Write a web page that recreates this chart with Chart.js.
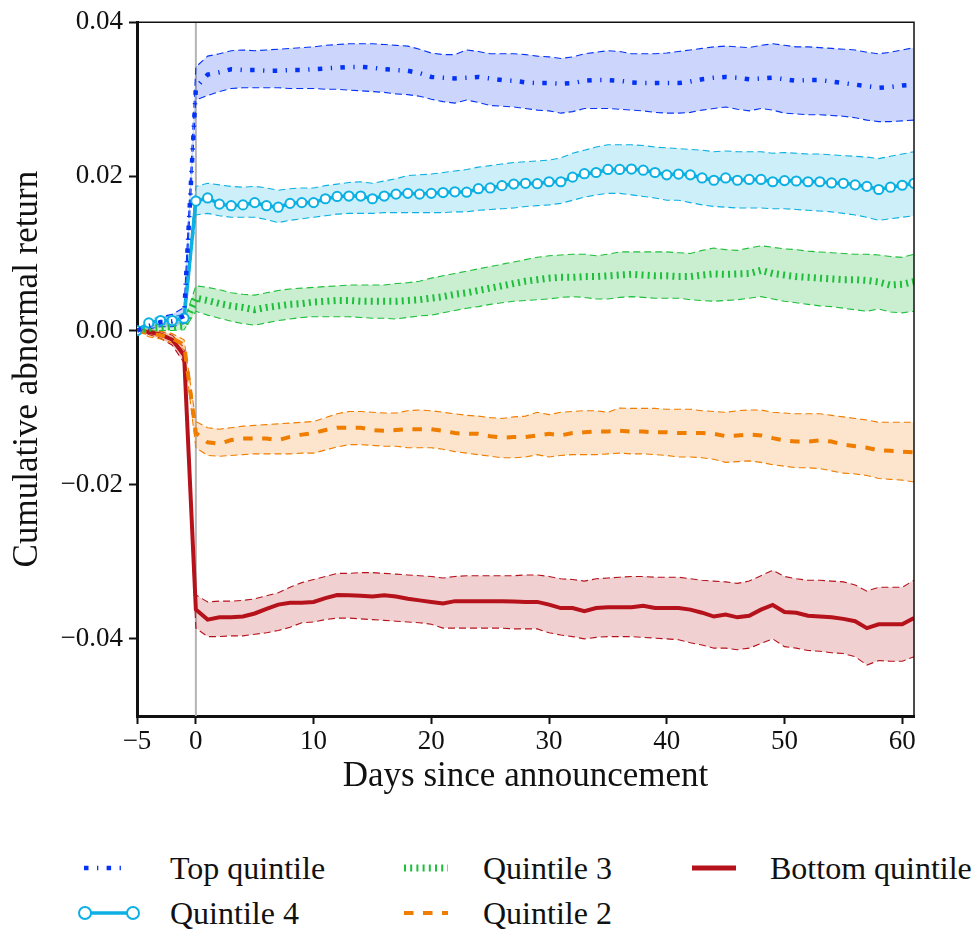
<!DOCTYPE html>
<html>
<head>
<meta charset="utf-8">
<script src="https://cdn.jsdelivr.net/npm/chart.js@4.4.1/dist/chart.umd.min.js"></script>
<style>
    body { margin: 0; background: #fff; }
    #wrap { position: relative; width: 977px; height: 931px; font-family: "Liberation Serif", serif; }
    #chart { position: absolute; left: 0; top: 0; }
    .legSample { position: absolute; }
    .legText { position: absolute; font-size: 32px; line-height: 40px; color: #111; white-space: nowrap; }
</style>
</head>
<body>
<div id="wrap">
    <canvas id="chart" width="977" height="810"></canvas>
    <div id="legend"></div>
</div>
<script>
// days since announcement
const days = [-5, -4, -3, -2, -1, 0, 1, 2, 3, 4, 5, 6, 7, 8, 9, 10, 11, 12, 13, 14, 15, 16, 17, 18, 19, 20,
    21, 22, 23, 24, 25, 26, 27, 28, 29, 30, 31, 32, 33, 34, 35, 36, 37, 38, 39, 40, 41, 42, 43, 44, 45,
    46, 47, 48, 49, 50, 51, 52, 53, 54, 55, 56, 57, 58, 59, 60, 61];

const xTicks = [-5, 0, 10, 20, 30, 40, 50, 60];
const yTicks = [-0.04, -0.02, 0, 0.02, 0.04];

// values in units of 0.001
const topMean = [0, 0.6, 1.1, 1.2, 1.9, 31.5, 33.2, 33.5, 33.9, 33.8, 33.8, 33.7, 33.7, 33.8, 33.8, 33.9,
    34.0, 34.1, 34.2, 34.2, 34.1, 33.9, 33.8, 33.7, 33.4, 32.9, 32.8, 32.7, 32.8, 32.9, 32.7, 32.5, 32.4,
    32.2, 32.1, 32.1, 32.0, 32.1, 32.4, 32.5, 32.5, 32.4, 32.2, 32.1, 32.1, 32.1, 32.1, 32.3, 32.6, 32.8,
    32.9, 32.8, 32.6, 32.7, 32.8, 32.6, 32.4, 32.5, 32.5, 32.3, 32.1, 31.9, 31.7, 31.5, 31.6, 31.8, 31.9];
const topUpper = [0, 1.0, 1.8, 2.1, 3.0, 34.2, 35.6, 35.9, 36.3, 36.4, 36.3, 36.4, 36.5, 36.6, 36.7, 36.8,
    37.0, 37.1, 37.2, 37.2, 37.2, 37.1, 37.0, 36.9, 36.5, 36.0, 35.8, 35.8, 36.4, 36.2, 35.9, 35.9, 35.9,
    35.8, 35.6, 35.5, 35.3, 35.5, 35.9, 36.1, 36.3, 36.2, 35.9, 35.9, 35.9, 36.0, 36.2, 36.4, 36.6, 36.8,
    36.9, 36.8, 36.7, 37.0, 37.2, 37.0, 36.8, 36.8, 36.7, 36.6, 36.5, 36.4, 36.1, 35.9, 36.1, 36.4, 36.7];
const topLower = [0, 0.2, 0.5, 0.5, 0.9, 29.9, 30.5, 31.0, 31.4, 31.5, 31.5, 31.5, 31.5, 31.4, 31.4, 31.4,
    31.3, 31.3, 31.2, 31.1, 31.0, 30.9, 30.7, 30.6, 30.4, 30.0, 29.7, 29.5, 29.9, 29.6, 29.2, 29.1, 29.0,
    28.8, 28.6, 28.5, 28.2, 28.4, 28.8, 28.8, 28.8, 28.7, 28.6, 28.5, 28.3, 28.2, 28.2, 28.3, 28.6, 28.8,
    29.0, 28.7, 28.5, 28.8, 28.6, 28.2, 28.1, 28.0, 28.0, 27.9, 27.8, 27.6, 27.3, 27.1, 27.1, 27.2, 27.3];

const q4Mean = [0, 1.0, 1.3, 1.3, 1.6, 16.8, 17.2, 16.4, 16.2, 16.3, 16.6, 16.2, 16.0, 16.5, 16.6, 16.6,
    17.1, 17.4, 17.45, 17.45, 17.1, 17.45, 17.7, 17.8, 17.7, 17.8, 17.9, 18.0, 17.95, 18.4, 18.5, 18.8,
    19.0, 19.1, 19.05, 19.3, 19.3, 19.9, 20.35, 20.5, 20.9, 20.9, 20.95, 20.8, 20.5, 20.2, 20.3, 20.2,
    19.8, 19.5, 19.8, 19.5, 19.6, 19.6, 19.3, 19.45, 19.4, 19.3, 19.3, 19.15, 19.1, 18.9, 18.7, 18.3,
    18.6, 18.85, 19.1];
const q4Upper = [0, 1.4, 1.8, 1.8, 2.1, 18.7, 19.1, 18.9, 18.7, 18.6, 18.7, 18.5, 18.2, 18.4, 18.5, 18.5,
    18.8, 19.0, 19.2, 19.3, 19.1, 19.4, 19.7, 20.1, 20.2, 20.3, 20.5, 20.7, 20.9, 21.2, 21.4, 21.6, 21.8,
    21.9, 22.0, 22.1, 22.4, 23.0, 23.4, 23.8, 24.1, 24.1, 24.1, 24.0, 23.8, 23.7, 23.6, 23.5, 23.4, 23.2,
    23.3, 23.2, 23.2, 23.2, 23.0, 23.1, 23.0, 22.9, 22.9, 22.8, 22.7, 22.6, 22.5, 22.3, 22.6, 22.9, 23.2];
const q4Lower = [0, 0.6, 0.8, 0.8, 1.1, 15.0, 15.2, 14.9, 14.7, 14.7, 14.7, 14.4, 14.0, 14.3, 14.5, 14.7,
    14.9, 15.1, 15.2, 15.2, 15.2, 15.3, 15.3, 15.3, 15.3, 15.3, 15.3, 15.4, 15.4, 15.6, 15.7, 15.8, 15.9,
    16.1, 16.2, 16.3, 16.5, 16.9, 17.3, 17.6, 17.8, 17.8, 17.6, 17.4, 17.2, 16.9, 16.9, 16.6, 16.3, 16.1,
    16.0, 15.9, 15.9, 15.9, 15.8, 15.8, 15.7, 15.6, 15.5, 15.4, 15.2, 15.0, 14.7, 14.3, 14.5, 14.7, 14.9];

const q3Mean = [0, 0.3, 0.4, 0.5, 0.6, 4.2, 3.9, 3.5, 3.2, 3.0, 2.7, 3.0, 3.2, 3.4, 3.5, 3.7, 3.8, 3.9,
    3.9, 3.8, 3.8, 3.8, 3.8, 3.9, 4.0, 4.2, 4.4, 4.7, 4.9, 5.2, 5.5, 5.8, 6.1, 6.4, 6.6, 6.8, 6.9, 6.9,
    7.0, 7.0, 7.1, 7.2, 7.3, 7.2, 7.1, 7.1, 7.0, 7.0, 7.2, 7.35, 7.3, 7.35, 7.4, 7.8, 7.4, 7.2, 7.0, 6.9,
    6.8, 6.7, 6.6, 6.6, 6.5, 6.3, 5.9, 6.0, 6.35];
const q3Upper = [0, 0.7, 0.9, 1.0, 1.2, 5.8, 5.6, 5.3, 4.9, 4.7, 4.6, 4.9, 5.2, 5.4, 5.5, 5.6, 5.7, 5.8,
    5.9, 5.9, 5.9, 5.9, 6.1, 6.2, 6.4, 6.8, 7.1, 7.4, 7.7, 8.0, 8.3, 8.6, 8.9, 9.2, 9.5, 9.7, 9.8, 9.9,
    9.9, 9.7, 9.9, 10.2, 10.2, 10.2, 10.2, 10.2, 10.1, 10.0, 10.4, 10.7, 10.5, 10.4, 10.7, 11.0, 10.8,
    10.6, 10.5, 10.3, 10.2, 10.1, 10.0, 9.9, 9.9, 9.8, 9.6, 9.5, 9.9];
const q3Lower = [0, -0.1, 0.0, 0.0, 0.1, 2.5, 2.0, 1.6, 1.2, 0.9, 0.7, 1.0, 1.3, 1.5, 1.7, 1.8, 1.8, 1.8,
    1.8, 1.7, 1.6, 1.6, 1.5, 1.7, 1.9, 2.0, 2.3, 2.6, 2.9, 3.1, 3.4, 3.6, 3.8, 3.9, 4.0, 4.1, 4.3, 4.4,
    4.3, 4.1, 4.1, 4.3, 4.4, 4.3, 4.2, 4.2, 4.2, 4.0, 3.9, 3.8, 3.9, 4.0, 4.2, 4.4, 4.1, 3.8, 3.6, 3.4,
    3.2, 3.1, 2.9, 2.7, 2.5, 2.8, 2.4, 2.3, 2.5];

const q2Mean = [0, -0.35, -0.6, -1.0, -1.85, -13.3, -14.5, -14.7, -14.2, -14.0, -14.0, -14.0, -14.2,
    -13.8, -13.5, -13.3, -12.9, -12.6, -12.6, -12.6, -12.9, -13.0, -12.9, -12.8, -12.8, -12.8, -13.0,
    -13.3, -13.4, -13.4, -13.7, -13.9, -13.8, -13.8, -13.6, -13.4, -13.6, -13.3, -13.2, -13.1, -13.1,
    -13.0, -13.1, -13.1, -13.2, -13.2, -13.3, -13.3, -13.3, -13.4, -13.7, -13.6, -13.5, -13.6, -13.95,
    -14.25, -14.4, -14.4, -14.25, -14.4, -14.8, -15.0, -15.2, -15.55, -15.6, -15.7, -15.8];
const q2Upper = [0, 0.1, -0.1, -0.4, -1.2, -11.8, -12.6, -12.8, -12.6, -12.4, -12.3, -12.2, -12.1, -12.0,
    -11.9, -11.8, -11.3, -10.8, -10.5, -10.5, -10.6, -10.7, -10.7, -10.4, -10.3, -10.4, -10.6, -10.8,
    -11.0, -11.1, -11.3, -11.4, -11.2, -11.1, -10.6, -10.9, -10.6, -10.5, -10.4, -10.4, -10.6, -10.05,
    -10.1, -10.1, -10.1, -10.2, -10.2, -10.2, -10.4, -10.5, -10.6, -10.4, -10.3, -10.3, -10.6, -10.7,
    -10.8, -10.8, -10.8, -11.0, -11.2, -11.4, -11.6, -11.9, -11.9, -11.9, -11.9];
const q2Lower = [0, -0.8, -1.1, -1.6, -2.5, -15.2, -16.2, -16.3, -16.2, -16.1, -16.0, -16.0, -16.0, -16.0,
    -15.9, -15.9, -15.5, -15.1, -14.8, -14.8, -14.9, -15.0, -15.0, -15.2, -15.2, -15.2, -15.4, -15.7,
    -15.9, -16.1, -16.3, -16.5, -16.5, -16.4, -16.1, -16.4, -16.2, -16.1, -16.1, -16.1, -16.0, -15.9,
    -16.0, -16.0, -16.1, -16.2, -16.4, -16.4, -16.5, -16.7, -17.1, -17.0, -16.9, -17.1, -17.4, -17.6,
    -17.8, -17.8, -17.9, -18.2, -18.5, -18.6, -18.8, -19.2, -19.3, -19.4, -19.65];

const botMean = [0, -0.2, -0.5, -1.2, -3.2, -36.2, -37.5, -37.2, -37.2, -37.1, -36.7, -36.1, -35.55,
    -35.3, -35.3, -35.2, -34.7, -34.3, -34.35, -34.4, -34.5, -34.35, -34.5, -34.8, -35.0, -35.2, -35.4,
    -35.1, -35.1, -35.1, -35.1, -35.1, -35.15, -35.2, -35.2, -35.55, -36.0, -36.0, -36.4, -36.0, -35.9,
    -35.9, -35.9, -35.7, -36.0, -36.0, -36.0, -36.2, -36.6, -37.1, -36.85, -37.2, -37.0, -36.2, -35.6,
    -36.5, -36.6, -37.0, -37.1, -37.2, -37.4, -37.7, -38.6, -38.1, -38.1, -38.1, -37.3];
const botUpper = [0, 0.1, -0.1, -0.6, -2.2, -34.3, -35.2, -35.1, -35.1, -35.0, -34.8, -34.4, -34.0, -33.3,
    -32.7, -32.3, -31.9, -31.5, -31.5, -31.4, -31.4, -31.5, -31.6, -31.7, -31.8, -31.9, -32.1, -31.9,
    -31.8, -31.8, -31.8, -31.8, -31.8, -31.7, -31.7, -31.9, -32.2, -32.3, -32.5, -32.2, -32.1, -32.0,
    -31.9, -31.9, -32.0, -32.0, -32.0, -32.2, -32.4, -32.5, -32.6, -32.8, -32.5, -31.8, -31.1, -31.9,
    -32.2, -32.4, -32.4, -32.5, -32.6, -33.0, -33.8, -33.3, -33.3, -33.3, -32.4];
const botLower = [0, -0.5, -1.0, -1.9, -4.2, -38.6, -39.7, -39.7, -39.6, -39.6, -39.4, -39.2, -38.9, -38.5,
    -37.9, -37.8, -37.5, -37.3, -37.3, -37.4, -37.5, -37.6, -37.7, -37.8, -37.9, -38.1, -38.6, -38.6,
    -38.6, -38.6, -38.6, -38.6, -38.7, -38.7, -38.7, -39.2, -39.5, -39.7, -40.0, -39.8, -39.7, -39.7,
    -39.7, -39.8, -39.9, -40.0, -40.1, -40.5, -40.8, -41.2, -41.2, -41.4, -41.2, -40.6, -40.0, -41.0,
    -41.2, -41.5, -41.6, -41.8, -41.9, -42.3, -43.4, -42.8, -42.9, -42.9, -42.3];

const series = [
    { name: "Top quintile", mean: topMean, lo: topLower, hi: topUpper,
      color: "#0433f5", fill: "rgba(0, 51, 245, 0.2)", width: 4.5, dash: [4.5, 8.5, 1.3, 8.3] },
    { name: "Quintile 4", mean: q4Mean, lo: q4Lower, hi: q4Upper,
      color: "#0cb0e2", fill: "rgba(0, 176, 224, 0.2)", width: 3.5, dash: [], marker: true },
    { name: "Quintile 3", mean: q3Mean, lo: q3Lower, hi: q3Upper,
      color: "#1fbf3c", fill: "rgba(30, 190, 60, 0.24)", width: 7, dash: [2, 4.2] },
    { name: "Quintile 2", mean: q2Mean, lo: q2Lower, hi: q2Upper,
      color: "#ef7d00", fill: "rgba(239, 125, 0, 0.2)", width: 4, dash: [9.5, 9.5] },
    { name: "Bottom quintile", mean: botMean, lo: botLower, hi: botUpper,
      color: "#b5121b", fill: "rgba(181, 18, 27, 0.2)", width: 4, dash: [] }
];

const pts = arr => days.map((d, i) => ({ x: d, y: arr[i] / 1000 }));

const datasets = [];
series.forEach(s => {
    datasets.push({
        label: s.name + " lower", data: pts(s.lo), borderColor: s.color, borderWidth: 1.1,
        borderDash: [7, 4], pointRadius: 0, fill: false, order: 10
    });
    datasets.push({
        label: s.name + " upper", data: pts(s.hi), borderColor: s.color, borderWidth: 1.1,
        borderDash: [7, 4], pointRadius: 0, fill: "-1", backgroundColor: s.fill, order: 10
    });
});
series.forEach((s, k) => {
    datasets.push({
        label: s.name, data: pts(s.mean), borderColor: s.color, borderWidth: s.width,
        borderDash: s.dash, borderCapStyle: "butt", fill: false, order: k + 1,
        pointRadius: s.marker ? 4.6 : 0, pointBorderWidth: 2,
        pointBackgroundColor: "#fff", pointBorderColor: s.color
    });
});

const minus = v => String(v).replace("-", "\u2212");

const framePlugin = {
    id: "frame",
    beforeDatasetsDraw(chart) {
        const { ctx, chartArea, scales } = chart;
        const x0 = scales.x.getPixelForValue(0);
        ctx.save();
        ctx.strokeStyle = "#b4b4b4";
        ctx.lineWidth = 2;
        ctx.beginPath();
        ctx.moveTo(x0, chartArea.top);
        ctx.lineTo(x0, chartArea.bottom);
        ctx.stroke();
        ctx.restore();
    },
    afterDraw(chart) {
        const { ctx, chartArea } = chart;
        ctx.save();
        ctx.strokeStyle = "#111";
        ctx.lineWidth = 1.5;
        ctx.beginPath();
        ctx.moveTo(chartArea.left, chartArea.top);
        ctx.lineTo(chartArea.right, chartArea.top);
        ctx.lineTo(chartArea.right, chartArea.bottom);
        ctx.stroke();
        ctx.restore();
    }
};

const tickFont = { family: "Liberation Serif", size: 27 };
const titleFont = { family: "Liberation Serif", size: 35 };

new Chart(document.getElementById("chart"), {
    type: "line",
    data: { datasets },
    options: {
        responsive: false,
        animation: false,
        layout: { padding: { top: 22, right: 63, bottom: 0, left: 0 } },
        plugins: { legend: { display: false }, tooltip: { enabled: false } },
        elements: { line: { tension: 0 } },
        scales: {
            x: {
                type: "linear", min: -5, max: 61,
                afterBuildTicks: scale => { scale.ticks = xTicks.map(v => ({ value: v })); },
                afterFit: scale => { scale.height = 94; },
                ticks: { font: tickFont, color: "#111", padding: 2, maxRotation: 0, callback: v => minus(v) },
                grid: { drawOnChartArea: false, drawTicks: true, tickLength: 8, tickWidth: 2, tickColor: "#111" },
                border: { display: true, width: 3, color: "#111" },
                title: { display: true, text: "Days since announcement", font: titleFont, color: "#111",
                         padding: { top: 0, bottom: 12 } }
            },
            y: {
                type: "linear", min: -0.05, max: 0.04,
                afterBuildTicks: scale => { scale.ticks = yTicks.map(v => ({ value: v })); },
                afterFit: scale => { scale.width = 137; },
                ticks: { font: tickFont, color: "#111", padding: 6, callback: v => minus(v.toFixed(2)) },
                grid: { drawOnChartArea: false, drawTicks: true, tickLength: 8, tickWidth: 2, tickColor: "#111" },
                border: { display: true, width: 3, color: "#111" },
                title: { display: true, text: "Cumulative abnormal return", font: titleFont, color: "#111",
                         padding: { top: 7, bottom: 0 } }
            }
        }
    },
    plugins: [framePlugin]
});

// legend, laid out in columns like the original
const legendSlots = [
    { col: 0, row: 0 }, { col: 0, row: 1 }, { col: 1, row: 0 }, { col: 1, row: 1 }, { col: 2, row: 0 }
];
const colSample = [78, 398, 686];
const colText = [170, 483, 770];
const rowY = [868, 913];
const legend = document.getElementById("legend");

series.forEach((s, i) => {
    const slot = legendSlots[i];
    const x = colSample[slot.col];
    const y = rowY[slot.row];
    const ns = "http://www.w3.org/2000/svg";
    const svg = document.createElementNS(ns, "svg");
    svg.setAttribute("width", 64);
    svg.setAttribute("height", 30);
    svg.setAttribute("class", "legSample");
    svg.style.left = x + "px";
    svg.style.top = (y - 15) + "px";
    const line = document.createElementNS(ns, "line");
    const x1 = s.marker ? 7 : 6, x2 = s.marker ? 55 : 50;
    line.setAttribute("x1", x1);
    line.setAttribute("x2", x2);
    line.setAttribute("y1", 15);
    line.setAttribute("y2", 15);
    line.setAttribute("stroke", s.color);
    line.setAttribute("stroke-width", s.name === "Bottom quintile" ? 5 : s.width);
    if (s.dash.length) line.setAttribute("stroke-dasharray", s.dash.join(" "));
    svg.appendChild(line);
    if (s.marker) {
        [x1, x2].forEach(cx => {
            const c = document.createElementNS(ns, "circle");
            c.setAttribute("cx", cx);
            c.setAttribute("cy", 15);
            c.setAttribute("r", 6);
            c.setAttribute("fill", "#fff");
            c.setAttribute("stroke", s.color);
            c.setAttribute("stroke-width", 2);
            svg.appendChild(c);
        });
    }
    legend.appendChild(svg);
    const span = document.createElement("span");
    span.className = "legText";
    span.textContent = s.name;
    span.style.left = colText[slot.col] + "px";
    span.style.top = (y - 20) + "px";
    legend.appendChild(span);
});
</script>
</body>
</html>
